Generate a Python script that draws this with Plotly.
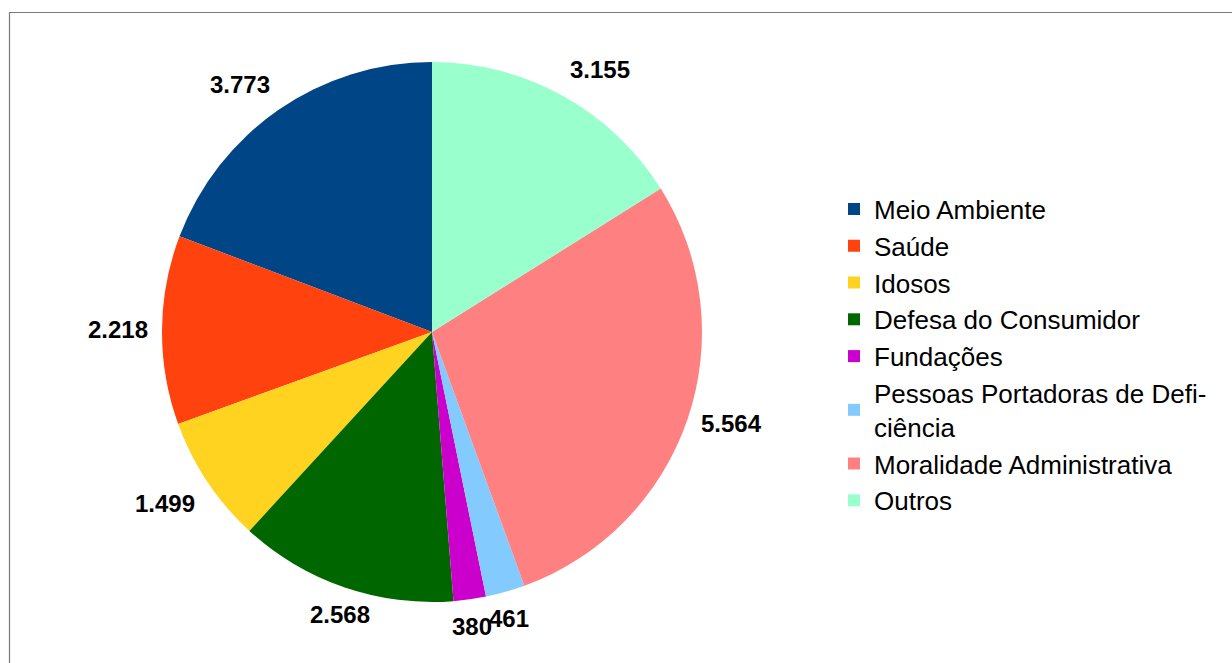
import math
import plotly.graph_objects as go

# Ações civis públicas por área de atuação
categories = [
    "Meio Ambiente",
    "Saúde",
    "Idosos",
    "Defesa do Consumidor",
    "Fundações",
    "Pessoas Portadoras de Defi-<br>ciência",
    "Moralidade Administrativa",
    "Outros",
]
values = [3773, 2218, 1499, 2568, 380, 461, 5564, 3155]
colors = ["#004586", "#ff420e", "#ffd320", "#006600",
          "#cc00cc", "#83caff", "#ff8080", "#99ffcc"]

W, H = 1232, 663
# pie placement in pixels
CX, CY, R = 432, 332, 270
LABEL_GAP = 12

total = sum(values)

# plotly lays the first counterclockwise slice just right of the start angle;
# shift it so the first slice begins at 12 o'clock and runs to the left
fig = go.Figure(go.Pie(
    labels=categories,
    values=values,
    sort=False,
    direction="counterclockwise",
    rotation=-360 * values[0] / total,
    marker=dict(colors=colors, line=dict(width=0)),
    textinfo="none",
    hoverinfo="label+value",
    domain=dict(x=[(CX - R) / W, (CX + R) / W],
                y=[1 - (CY + R) / H, 1 - (CY - R) / H]),
))


def fmt(v):
    return f"{v:,}".replace(",", ".")


# value labels just outside each slice, along the slice's mid angle
acc = 0
annotations = []
for v in values:
    mid = (acc + v / 2) / total * 2 * math.pi
    acc += v
    s, c = math.sin(mid), math.cos(mid)
    px = CX - (R + LABEL_GAP) * s
    py = CY - (R + LABEL_GAP) * c
    if abs(s) < 0.4:
        xa = "center"
    else:
        xa = "right" if s > 0 else "left"
    if abs(c) < 0.4:
        ya = "middle"
    else:
        ya = "bottom" if c > 0 else "top"
    annotations.append(dict(
        x=px / W, y=1 - py / H, xref="paper", yref="paper",
        text=f"<b>{fmt(v)}</b>", showarrow=False,
        xanchor=xa, yanchor=ya,
        font=dict(family="Liberation Sans, Arial, sans-serif", size=24, color="#000000"),
    ))

fig.update_layout(
    width=W, height=H,
    margin=dict(l=0, r=0, t=0, b=0),
    paper_bgcolor="#ffffff",
    plot_bgcolor="#ffffff",
    showlegend=True,
    legend=dict(
        x=834 / W, y=1 - 355 / H, xanchor="left", yanchor="middle",
        font=dict(family="Liberation Sans, Arial, sans-serif", size=26, color="#000000"),
        bgcolor="rgba(0,0,0,0)",
    ),
    annotations=annotations,
    shapes=[dict(
        type="rect", xref="paper", yref="paper",
        x0=9.5 / W, x1=1.05, y0=-0.05, y1=1 - 12.5 / H,
        line=dict(color="#7a7a7a", width=1.2),
        fillcolor="rgba(0,0,0,0)", layer="below",
    )],
)

fig.write_html("out.html")
